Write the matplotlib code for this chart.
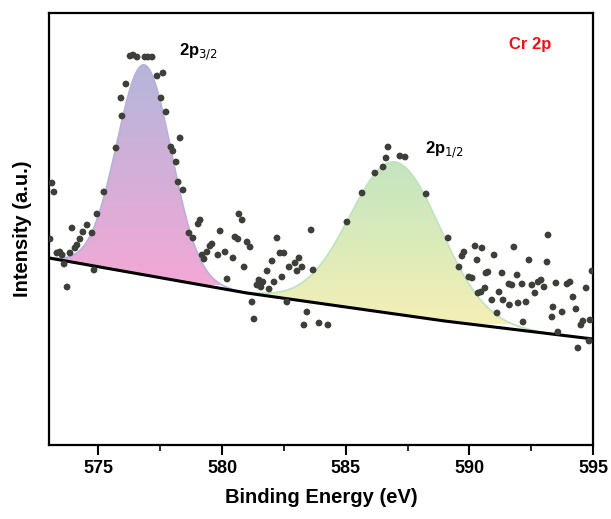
import numpy as np
import matplotlib
matplotlib.use("Agg")
import matplotlib.pyplot as plt
from matplotlib.colors import LinearSegmentedColormap

plt.rcParams['font.family'] = ['Liberation Sans', 'DejaVu Sans']

# --- measured points (binding energy in eV, intensity in a.u.) -------------
be = [573.04, 573.12, 573.20, 573.32, 573.44, 573.53, 573.61, 573.73, 573.85, 573.93,
      574.05, 574.13, 574.25, 574.37, 574.54, 574.74, 574.82, 574.94, 575.22, 575.71,
      575.91, 575.95, 576.11, 576.28, 576.40, 576.56, 576.88, 577.00, 577.17, 577.37,
      577.53, 577.61, 577.73, 577.93, 578.01, 578.14, 578.22, 578.30, 578.42, 578.66,
      578.82, 579.03, 579.11, 579.19, 579.27, 579.39, 579.51, 579.59, 579.83, 579.92,
      580.12, 580.20, 580.44, 580.52, 580.64, 580.68, 580.81, 580.89, 581.01, 581.13,
      581.21, 581.29, 581.41, 581.49, 581.57, 581.65, 581.82, 581.90, 582.02, 582.10,
      582.22, 582.34, 582.42, 582.50, 582.62, 582.71, 582.95, 583.03, 583.11, 583.23,
      583.31, 583.43, 583.60, 583.68, 583.92, 584.28, 585.05, 585.66, 586.18, 586.51,
      586.63, 586.71, 587.19, 587.40, 588.25, 589.14, 589.58, 589.70, 589.78, 589.98,
      590.11, 590.23, 590.31, 590.35, 590.47, 590.51, 590.63, 590.67, 590.75, 590.91,
      591.00, 591.12, 591.20, 591.32, 591.36, 591.60, 591.62, 591.72, 591.80, 591.93,
      591.97, 592.13, 592.17, 592.29, 592.41, 592.53, 592.65, 592.78, 592.90, 593.02,
      593.14, 593.18, 593.34, 593.38, 593.50, 593.58, 593.75, 593.95, 594.07, 594.19,
      594.31, 594.39, 594.51, 594.59, 594.72, 594.84, 594.88, 594.96]
counts = [206, 262, 253, 192, 193, 190, 181, 158, 192, 217,
          197, 200, 206, 213, 220, 212, 175, 231, 253, 297,
          347, 329, 361, 389, 390, 388, 388, 388, 388, 369,
          347, 372, 333, 298, 294, 283, 263, 307, 255, 212,
          207, 221, 225, 190, 186, 193, 199, 201, 190, 214,
          193, 166, 187, 208, 206, 231, 225, 178, 203, 198,
          143, 126, 160, 165, 158, 163, 174, 156, 184, 163,
          207, 192, 168, 192, 143, 178, 182, 174, 187, 178,
          120, 133, 215, 175, 122, 120, 223, 252, 272, 278,
          287, 298, 289, 288, 251, 207, 178, 189, 193, 168,
          167, 199, 185, 152, 153, 197, 157, 172, 173, 145,
          190, 132, 153, 172, 145, 161, 140, 160, 198, 170,
          142, 161, 123, 143, 185, 160, 152, 163, 165, 158,
          183, 210, 128, 138, 162, 113, 133, 161, 163, 148,
          136, 97, 120, 124, 157, 104, 125, 174]

# background (knots of the fitted baseline)
bg_be = [573.0, 577.0, 581.0, 585.0, 589.0, 595.0]
bg_int = [187, 169.5, 152, 138, 124, 106]

# fitted components: (centre eV, height a.u., fwhm eV)
peak_names = ["2p$_{3/2}$", "2p$_{1/2}$"]
peak_centre = [576.85, 587.0]
peak_height = [210, 152]
peak_fwhm = [2.6, 4.3]

fig = plt.figure(figsize=(6.11, 5.19), dpi=100)
ax = fig.add_axes([49 / 611, 74 / 519, 544 / 611, 432 / 519])

x = np.linspace(573, 595, 1200)
bg = np.interp(x, bg_be, bg_int)

# gradient fills: bottom colour, top colour, outline
grads = [("#f3a8d6", "#b4b6da", "#b8b0dc"),
         ("#f4f0b6", "#c3e5bf", "#bfe3bb")]
for c, h, w, (c_bot, c_top, c_edge) in zip(peak_centre, peak_height, peak_fwhm, grads):
    sig = w / 2.3548
    comp = bg + h * np.exp(-0.5 * ((x - c) / sig) ** 2)
    poly = ax.fill_between(x, bg, comp, facecolor="none", edgecolor="none")
    cmap = LinearSegmentedColormap.from_list("g", [c_bot, c_top])
    grad = np.linspace(0, 1, 256).reshape(-1, 1)
    ybot = np.interp(c, x, bg)
    im = ax.imshow(grad, cmap=cmap, origin="lower", aspect="auto",
                   extent=[573, 595, ybot - 10, comp.max()], zorder=1)
    im.set_clip_path(poly.get_paths()[0], transform=ax.transData)
    ax.plot(x, comp, color=c_edge, lw=1.2, zorder=2)

ax.plot(bg_be, bg_int, color="black", lw=2.2, zorder=3)
ax.scatter(be, counts, s=24, color="#3d4039", edgecolors="none", zorder=4)

ax.set_xlim(573, 595)
ax.set_ylim(0, 432)

ax.text((198 - 49) / 544, 1 - (52 - 13) / 432, peak_names[0], transform=ax.transAxes,
        fontsize=12, fontweight="bold", ha="center", va="center")
ax.text((444 - 49) / 544, 1 - (150 - 13) / 432, peak_names[1], transform=ax.transAxes,
        fontsize=12, fontweight="bold", ha="center", va="center")
ax.text((530 - 49) / 544, 1 - (45 - 13) / 432, "Cr 2p", transform=ax.transAxes,
        fontsize=12, fontweight="bold", color="#ee1111", ha="center", va="center")

ax.set_xticks([575, 580, 585, 590, 595])
ax.set_xticks([577.5, 582.5, 587.5, 592.5], minor=True)
ax.set_yticks([])
ax.tick_params(axis="x", which="major", length=7, width=1.5, labelsize=13, pad=4)
ax.tick_params(axis="x", which="minor", length=4, width=1.2)
for lab in ax.get_xticklabels():
    lab.set_fontweight("bold")
for s in ax.spines.values():
    s.set_linewidth(1.6)

ax.set_xlabel("Binding Energy (eV)", fontsize=14.5, fontweight="bold", labelpad=8)
ax.set_ylabel("Intensity (a.u.)", fontsize=14.5, fontweight="bold", labelpad=12)

fig.savefig("out.png", dpi=100)
